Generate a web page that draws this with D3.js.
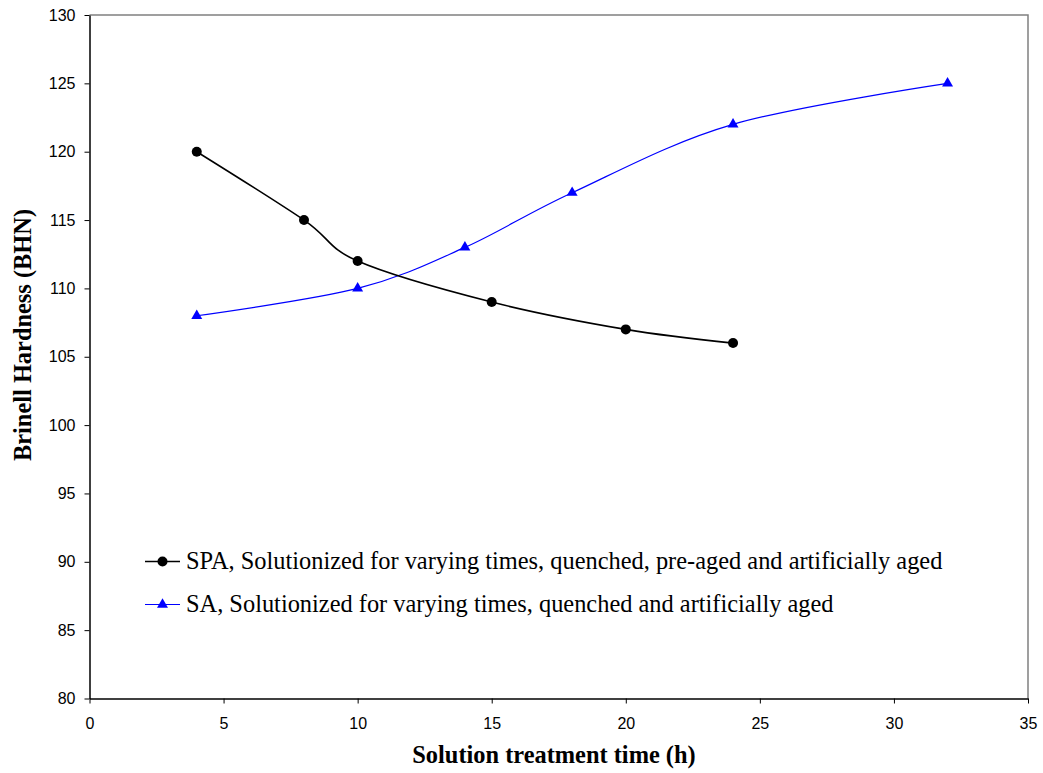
<!DOCTYPE html>
<html>
<head>
<meta charset="utf-8">
<script src="https://cdn.jsdelivr.net/npm/d3@7"></script>
<style>
  body { margin: 0; background: #fff; }
  svg { display: block; }
</style>
</head>
<body>
<div id="chart"></div>
<script>
// Data
const spaTimes = [4, 8, 10, 15, 20, 24];
const spaHardness = [120, 115, 112, 109, 107, 106];
const saTimes = [4, 10, 14, 18, 24, 32];
const saHardness = [108, 110, 113, 117, 122, 125];
const xTicks = [0, 5, 10, 15, 20, 25, 30, 35];
const yTicks = [80, 85, 90, 95, 100, 105, 110, 115, 120, 125, 130];
const seriesNames = [
  'SPA, Solutionized for varying times, quenched, pre-aged and artificially aged',
  'SA, Solutionized for varying times, quenched and artificially aged'
];

const width = 1043, height = 773;
const margin = {top: 15, right: 15, bottom: 74.5, left: 89.5};
const plotW = width - margin.left - margin.right;
const plotH = height - margin.top - margin.bottom;
const serif = '"Liberation Serif", "Times New Roman", serif';
const sans = '"Liberation Sans", Arial, sans-serif';

const svg = d3.select('#chart').append('svg')
    .attr('width', width)
    .attr('height', height);

const g = svg.append('g')
    .attr('transform', `translate(${margin.left},${margin.top})`);

const x = d3.scaleLinear().domain([0, 35]).range([0, plotW]);
const y = d3.scaleLinear().domain([80, 130]).range([plotH, 0]);

// grey frame on top and right
g.append('path')
    .attr('d', `M0,0H${plotW}V${plotH}`)
    .attr('fill', 'none')
    .attr('stroke', '#808080')
    .attr('stroke-width', 1.5);

// axes
const xAxis = g.append('g')
    .attr('transform', `translate(0,${plotH})`)
    .call(d3.axisBottom(x).tickValues(xTicks).tickSizeInner(5).tickSizeOuter(0).tickPadding(14));
const yAxis = g.append('g')
    .call(d3.axisLeft(y).tickValues(yTicks).tickSizeInner(5).tickSizeOuter(0).tickPadding(9));
[xAxis, yAxis].forEach(a => {
  a.select('.domain').attr('stroke', '#000').attr('stroke-width', 1.5);
  a.selectAll('.tick line').attr('stroke', '#000');
  a.selectAll('.tick text')
      .style('font-family', sans)
      .style('font-size', '16px')
      .attr('fill', '#000');
});

// smoothed lines, like the spreadsheet's smooth option
const line = d3.line()
    .x(d => x(d[0]))
    .y(d => y(d[1]))
    .curve(d3.curveCardinal.tension(0));

const spa = spaTimes.map((t, i) => [t, spaHardness[i]]);
const sa = saTimes.map((t, i) => [t, saHardness[i]]);

g.append('path')
    .datum(sa)
    .attr('d', line)
    .attr('fill', 'none')
    .attr('stroke', '#0000ff')
    .attr('stroke-width', 1.2);

g.append('path')
    .datum(spa)
    .attr('d', line)
    .attr('fill', 'none')
    .attr('stroke', '#000')
    .attr('stroke-width', 1.6);

const tri = d3.symbol().type(d3.symbolTriangle).size(52);

g.selectAll('.sa-pt')
    .data(sa)
    .enter().append('path')
    .attr('class', 'sa-pt')
    .attr('d', tri)
    .attr('transform', d => `translate(${x(d[0])},${y(d[1])})`)
    .attr('fill', '#0000ff');

g.selectAll('.spa-pt')
    .data(spa)
    .enter().append('circle')
    .attr('class', 'spa-pt')
    .attr('cx', d => x(d[0]))
    .attr('cy', d => y(d[1]))
    .attr('r', 5)
    .attr('fill', '#000');

// legend
const legend = svg.append('g').attr('transform', 'translate(145,561.5)');
const legendStyles = [
  {color: '#000', width: 1.6, marker: 'circle'},
  {color: '#0000ff', width: 1.2, marker: 'triangle'}
];
seriesNames.forEach((name, i) => {
  const row = legend.append('g').attr('transform', `translate(0,${i * 43})`);
  const st = legendStyles[i];
  row.append('line')
      .attr('x1', 0).attr('x2', 35)
      .attr('stroke', st.color)
      .attr('stroke-width', st.width);
  if (st.marker === 'circle') {
    row.append('circle').attr('cx', 17.5).attr('r', 5).attr('fill', st.color);
  } else {
    row.append('path').attr('d', tri).attr('transform', 'translate(17.5,0)').attr('fill', st.color);
  }
  row.append('text')
      .attr('x', 41)
      .attr('y', 7.5)
      .attr('font-family', serif)
      .attr('font-size', 24.4)
      .text(name);
});

// axis titles
svg.append('text')
    .attr('x', 554)
    .attr('y', 763)
    .attr('text-anchor', 'middle')
    .attr('font-family', serif)
    .attr('font-weight', 'bold')
    .attr('font-size', 24.4)
    .text('Solution treatment time (h)');

svg.append('text')
    .attr('transform', `translate(31,335) rotate(-90)`)
    .attr('text-anchor', 'middle')
    .attr('font-family', serif)
    .attr('font-weight', 'bold')
    .attr('font-size', 24.4)
    .text('Brinell Hardness (BHN)');
</script>
</body>
</html>
